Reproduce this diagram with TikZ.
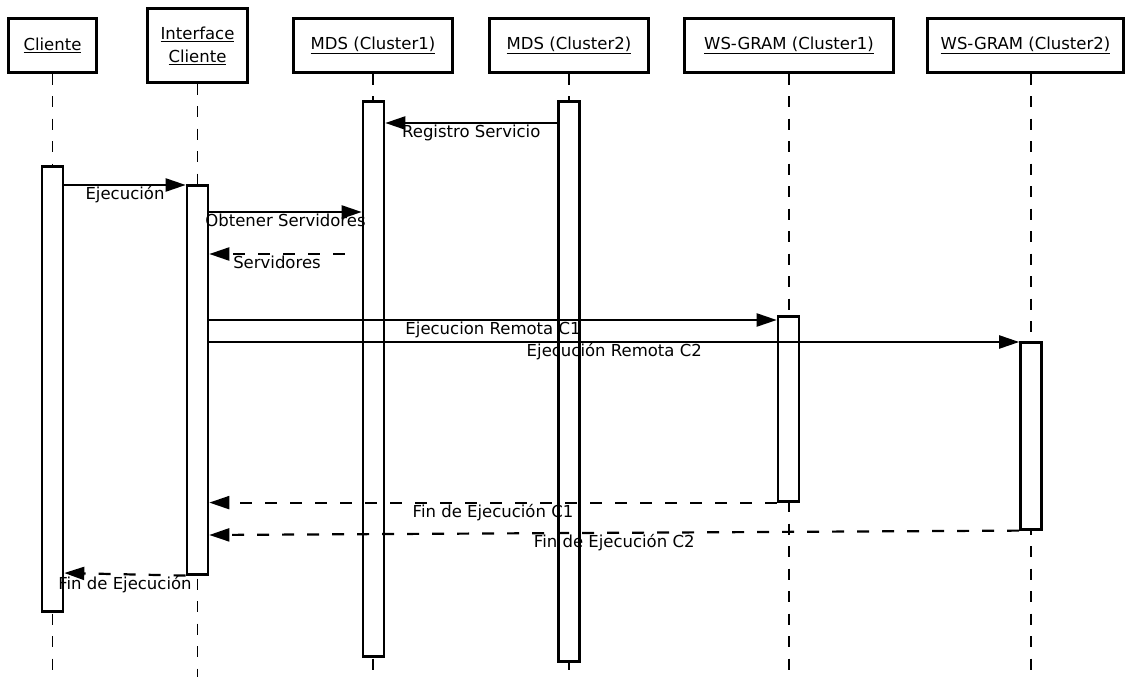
\documentclass[tikz,border=0pt]{standalone}
\usepackage{fontspec}
\setmainfont{DejaVu Sans}
\usepackage[svgnames]{xcolor}
\usepackage{tikz}
\usetikzlibrary{positioning, arrows.meta}
\definecolor{lineColor}{RGB}{0, 0, 0}
\definecolor{boxFill}{RGB}{255, 255, 255}
\tikzset{
    actor_box/.style={
        draw=lineColor,
        line width=2.4pt,
        fill=boxFill,
        minimum height=54pt,
        inner sep=2pt,
        align=center,
        font=\fontsize{16.5}{23}\selectfont
    },
    life_line/.style={
        draw=lineColor,
        line width=1.4pt,
        dash pattern=on 11pt off 11.5pt
    },
    act_bar/.style={
        draw=lineColor,
        line width=2.6pt,
        fill=boxFill,
        minimum width=21pt,
        inner sep=0pt,
        anchor=north
    },
    msg_edge/.style={
        draw=lineColor,
        line width=2.2pt,
        -{Triangle[length=20pt, width=13pt]}
    },
    reply_edge/.style={
        msg_edge,
        dash pattern=on 12pt off 13pt
    },
    msg_label/.style={
        below,
        inner sep=0.5pt,
        font=\fontsize{16.5}{18}\selectfont
    }
}

\begin{document}
\begin{tikzpicture}[x=1pt, y=-1pt]
    \useasboundingbox (0,0) rectangle (1129,677);
    \coordinate (bottom) at (0,677);

    % participants
    \node[actor_box, minimum width=88pt] (cliente) at (52.5,45.5) {\underline{Cliente}};
    \node[actor_box, minimum width=100pt, minimum height=74pt] (interfaz) at (197.5,45.5) {\underline{Interface}\\\underline{Cliente}};
    \node[actor_box, minimum width=159pt] (mds1) at (373,45.5) {\underline{MDS (Cluster1)}};
    \node[actor_box, minimum width=159pt] (mds2) at (569,45.5) {\underline{MDS (Cluster2)}};
    \node[actor_box, minimum width=209pt] (ws1) at (789,45.5) {\underline{WS-GRAM (Cluster1)}};
    \node[actor_box, minimum width=196pt] (ws2) at (1025.5,45.5) {\underline{WS-GRAM (Cluster2)}};
    \coordinate (ws2_line) at ([xshift=5.5pt]ws2.south);

    % lifelines
    \foreach \p in {cliente, interfaz, mds1, mds2, ws1}
        \draw[life_line] (\p.south) -- (\p.south |- bottom);
    \draw[life_line] (ws2_line) -- (ws2_line |- bottom);

    % activations
    \node[act_bar, minimum height=445pt] (cliente_act) at (52.5,165) {};
    \node[act_bar, minimum height=389pt] (interfaz_act) at (197.5,184) {};
    \node[act_bar, minimum height=555pt] (mds1_act) at (373.5,100) {};
    \node[act_bar, minimum height=560pt] (mds2_act) at (569,100) {};
    \node[act_bar, minimum height=185pt] (ws1_act) at (788.5,315) {};
    \node[act_bar, minimum height=187pt] (ws2_act) at (1031,341) {};

    % message rows
    \coordinate (row_reg) at (0,123);
    \coordinate (row_eje) at (0,185);
    \coordinate (row_obt) at (0,212);
    \coordinate (row_srv) at (0,254);
    \coordinate (row_c1) at (0,320);
    \coordinate (row_c2) at (0,342);
    \coordinate (row_f2) at (0,535);
    \coordinate (row_fin) at (0,573);
    \coordinate (srv_start) at ([xshift=-17pt]mds1_act.west |- row_srv);

    % messages
    \draw[msg_edge] (mds2_act.west |- row_reg) -- node[msg_label] {Registro Servicio} (mds1_act.east |- row_reg);
    \draw[msg_edge] (cliente_act.east |- row_eje) -- node[msg_label] {Ejecución} (interfaz_act.west |- row_eje);
    \draw[msg_edge] (interfaz_act.east |- row_obt) -- node[msg_label] {Obtener Servidores} (mds1_act.west |- row_obt);
    \draw[reply_edge] (srv_start) -- node[msg_label] {Servidores} (interfaz_act.east |- row_srv);
    \draw[msg_edge] (interfaz_act.east |- row_c1) -- node[msg_label] {Ejecucion Remota C1} (ws1_act.west |- row_c1);
    \draw[msg_edge] (interfaz_act.east |- row_c2) -- node[msg_label] {Ejecución Remota C2} (ws2_act.west |- row_c2);
    \draw[reply_edge] (ws1_act.south west) -- node[msg_label] {Fin de Ejecución C1} (interfaz_act.east |- ws1_act.south west);
    \draw[reply_edge] (ws2_act.south west) -- node[msg_label] {Fin de Ejecución C2} (interfaz_act.east |- row_f2);
    \draw[reply_edge] (interfaz_act.south west) -- node[msg_label] {Fin de Ejecución} (cliente_act.east |- row_fin);
\end{tikzpicture}
\end{document}
